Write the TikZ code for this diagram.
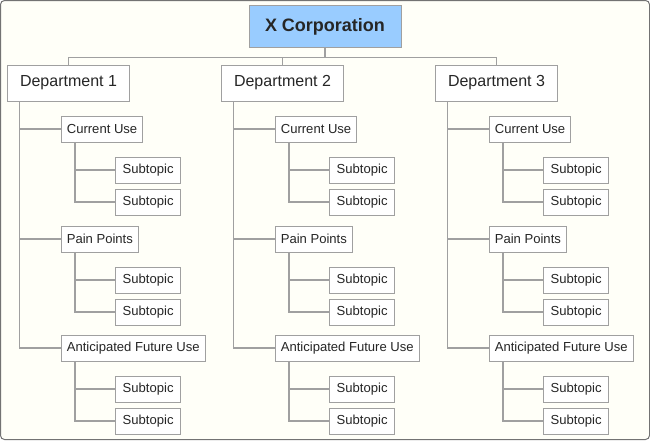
\documentclass[tikz,border=0pt]{standalone}
\usepackage{fontspec}
\setmainfont{Liberation Sans}
\definecolor{paper}{RGB}{255,255,248}
\definecolor{edge}{RGB}{160,160,160}
\definecolor{boss}{RGB}{153,204,255}
\tikzset{every picture/.style={line width=0.75pt},
  box/.style={draw=edge, fill=white, text=black!85, inner sep=0pt},
  corpbox/.style={box, fill=boss, minimum width=114pt, minimum height=32pt, font=\fontsize{13.5}{16}\selectfont\bfseries},
  deptbox/.style={box, minimum width=91pt, minimum height=27pt, font=\fontsize{12}{14}\selectfont},
  topicbox/.style={box, inner xsep=4pt, minimum height=19.5pt, anchor=west, font=\fontsize{9.8}{12}\selectfont},
  subbox/.style={box, minimum width=49pt, minimum height=19.5pt, anchor=west, font=\fontsize{9.8}{12}\selectfont},
  link/.style={draw=edge, line width=1pt}}

\begin{document}
\begin{tikzpicture}[x=0.75pt,y=0.75pt,yscale=-1,xscale=1]
% canvas
\draw [draw=black!55, fill=paper, rounded corners=3pt] (0.5,0.5) rectangle (649.5,439.5);

% top
\node [corpbox] (corp) at (325,26.5) {X Corporation};

\foreach \d in {1,2,3} {
  \pgfmathsetmacro{\ox}{(\d-1)*214}
  \node [deptbox] (d\d) at (\ox+68.5,83) {Department \d};
  \draw [link] (corp.south) -- ++(0,9) -| (d\d.north);
  % topics
  \foreach \t/\name/\ty in {1/Current Use/129, 2/Pain Points/239, 3/Anticipated Future Use/348} {
    \node [topicbox] (t\d\t) at (\ox+61,\ty) {\name};
    \draw [link] ([xshift=9pt]d\d.south west) |- (t\d\t.west);
    \foreach \s/\sy in {1/41, 2/73} {
      \node [subbox] (s\d\t\s) at (\ox+115,\ty+\sy) {Subtopic};
      \draw [link] ([xshift=10.5pt]t\d\t.south west) |- (s\d\t\s.west);
    }
  }
}

\end{tikzpicture}
\end{document}
